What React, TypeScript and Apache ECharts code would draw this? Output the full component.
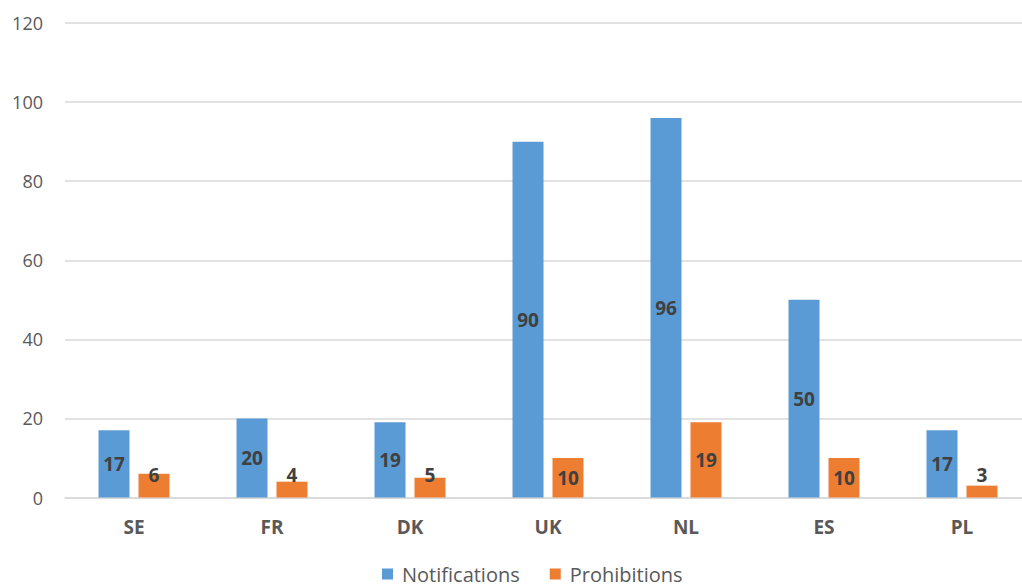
import React, { useEffect, useRef } from "react";
import * as echarts from "echarts";

const categories = ["SE", "FR", "DK", "UK", "NL", "ES", "PL"];
const notifications = [17, 20, 19, 90, 96, 50, 17];
const prohibitions = [6, 4, 5, 10, 19, 10, 3];
const seriesNames = ["Notifications", "Prohibitions"];
const yTicks = { min: 0, max: 120, interval: 20 };

const FONT = "'Open Sans', 'Noto Sans', sans-serif";

function makeData(values: number[]) {
  return values.map((v) =>
    v < 8
      ? { value: v, label: { position: "insideBottom", distance: 13 } }
      : { value: v }
  );
}

export default function App() {
  const ref = useRef<HTMLDivElement>(null);
  useEffect(() => {
    if (!ref.current) return;
    const chart = echarts.init(ref.current, null, { renderer: "svg" });
    const labelStyle = {
      show: true,
      position: "inside",
      fontFamily: FONT,
      fontWeight: "bold",
      fontSize: 19,
      color: "#404040",
    };
    chart.setOption({
      animation: false,
      backgroundColor: "#ffffff",
      textStyle: { fontFamily: FONT },
      grid: {
        left: 65,
        top: 23,
        width: 966,
        height: 474.5,
        containLabel: false,
        outerBoundsMode: "none",
      },
      legend: {
        data: seriesNames,
        bottom: 3,
        left: 382,
        padding: 0,
        itemWidth: 11,
        itemHeight: 11,
        itemGap: 30,
        icon: "rect",
        textStyle: {
          fontFamily: FONT,
          fontSize: 20,
          lineHeight: 20,
          color: "#595959",
          padding: [0, 0, 0, 4],
        },
      },
      xAxis: {
        type: "category",
        data: categories,
        axisLine: { show: true, lineStyle: { color: "#d9d9d9", width: 1.5 } },
        axisTick: { show: false },
        axisLabel: {
          margin: 20,
          fontFamily: FONT,
          fontWeight: "bold",
          fontSize: 19,
          color: "#595959",
        },
      },
      yAxis: {
        type: "value",
        min: yTicks.min,
        max: yTicks.max,
        interval: yTicks.interval,
        axisLine: { show: false },
        axisTick: { show: false },
        splitLine: { lineStyle: { color: "#d9d9d9", width: 1.5 } },
        axisLabel: {
          margin: 22,
          fontFamily: FONT,
          fontSize: 18,
          color: "#595959",
        },
      },
      series: [
        {
          name: seriesNames[0],
          type: "bar",
          data: makeData(notifications),
          barWidth: 31,
          barGap: "29%",
          itemStyle: { color: "#5B9BD5" },
          label: labelStyle,
        },
        {
          name: seriesNames[1],
          type: "bar",
          data: makeData(prohibitions),
          barWidth: 31,
          barGap: "29%",
          itemStyle: { color: "#ED7D31" },
          label: labelStyle,
        },
      ],
    });
    return () => chart.dispose();
  }, []);
  return (
    <div
      ref={ref}
      style={{ position: "fixed", left: 0, top: 0, width: 1022, height: 587 }}
    />
  );
}
